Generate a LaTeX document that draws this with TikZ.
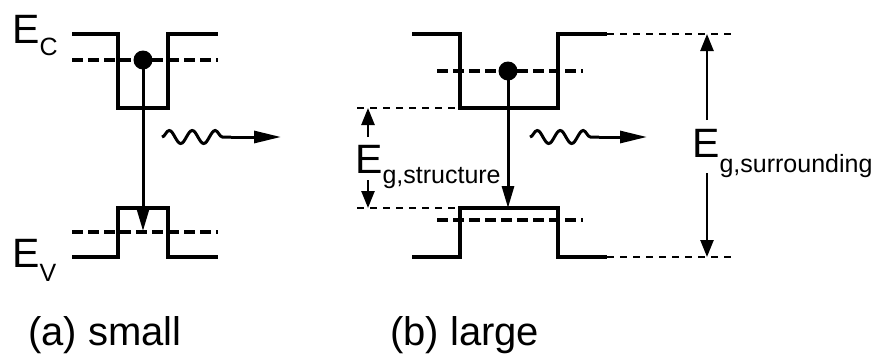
\documentclass[tikz,border=0pt]{standalone}
\usepackage{fontspec}
\setmainfont{Liberation Sans}
\usepackage{tikz}
\usetikzlibrary{arrows.meta, positioning}
\usetikzlibrary{decorations.pathmorphing}

\newcommand{\lowsub}[2]{\raisebox{-#1}{\fontsize{25}{25}\selectfont #2}}

\begin{document}
\begin{tikzpicture}[x=1pt,y=-1pt,
    band/.style={line width=3.5pt},
    level/.style={line width=3.5pt, dash pattern=on 11pt off 5pt},
    guide/.style={line width=2pt, dash pattern=on 7pt off 6pt},
    trans/.style={line width=3pt, -{Triangle[length=22pt,width=12pt]}},
    gaparrow/.style={line width=2.5pt, -{Triangle[length=17pt,width=13pt]}},
    photon/.style={line width=3pt, decorate, decoration={snake, segment length=23pt, amplitude=6.5pt}},
    lbl/.style={anchor=base west, inner sep=0pt, font=\fontsize{41}{41}\selectfont}]
    \useasboundingbox (0,0) rectangle (871,354);

    % (a) small
    \draw[band] (72,34) -- (118,34) -- (118,108) -- (168,108) -- (168,34) -- (218,34);
    \draw[band] (72,257) -- (118,257) -- (118,208) -- (168,208) -- (168,257) -- (218,257);
    \draw[level] (72,60) -- (218,60);
    \draw[level] (72,232) -- (218,232);
    \coordinate (ea) at (143,60);
    \coordinate (ha) at (143,231);
    \fill (ea) circle (9.5pt);
    \draw[trans] (ea) -- (ha);
    \coordinate (wa1) at (162,137);
    \coordinate (wa2) at (231,137);
    \coordinate (wa3) at (281,137);
    \draw[photon] (wa1) -- (wa2);
    \draw[trans, -{Triangle[length=27pt,width=12pt]}] (wa2) -- (wa3);
    \node[lbl] (ec) at (12,43) {E\lowsub{12pt}{C}};
    \node[lbl] (ev) at (12,267) {E\lowsub{14pt}{V}};
    \node[lbl, font=\fontsize{40}{40}\selectfont] (capa) at (28,345) {(a) small};

    % (b) large
    \draw[band] (412,34) -- (460,34) -- (460,108) -- (558,108) -- (558,34) -- (607,34);
    \draw[band] (412,257) -- (460,257) -- (460,208) -- (558,208) -- (558,257) -- (607,257);
    \draw[level] (437,71) -- (583,71);
    \draw[level] (437,220) -- (583,220);
    \draw[guide] (607,34) -- (735,34);
    \draw[guide] (607,257) -- (735,257);
    \draw[guide] (357,108) -- (455,108);
    \draw[guide] (357,208) -- (455,208);
    \coordinate (eb) at (508,71);
    \coordinate (hb) at (508,208);
    \fill (eb) circle (9.5pt);
    \draw[trans] (eb) -- (hb);
    \coordinate (wb1) at (530,137);
    \coordinate (wb2) at (599,137);
    \coordinate (wb3) at (647,137);
    \draw[photon] (wb1) -- (wb2);
    \draw[trans, -{Triangle[length=27pt,width=12pt]}] (wb2) -- (wb3);

    \coordinate (st1) at (368,137);
    \coordinate (st2) at (368,108);
    \coordinate (st3) at (368,180);
    \coordinate (st4) at (368,208);
    \draw[gaparrow] (st1) -- (st2);
    \draw[gaparrow] (st3) -- (st4);
    \node[lbl] (egs) at (355,173) {E\lowsub{10pt}{g,structure}};

    \coordinate (su1) at (707,120);
    \coordinate (su2) at (707,34);
    \coordinate (su3) at (707,173);
    \coordinate (su4) at (707,257);
    \draw[gaparrow] (su1) -- (su2);
    \draw[gaparrow] (su3) -- (su4);
    \node[lbl] (egu) at (692,157) {E\lowsub{15pt}{g,surrounding}};
    \node[lbl, font=\fontsize{40}{40}\selectfont] (capb) at (390,345) {(b) large};
\end{tikzpicture}
\end{document}
